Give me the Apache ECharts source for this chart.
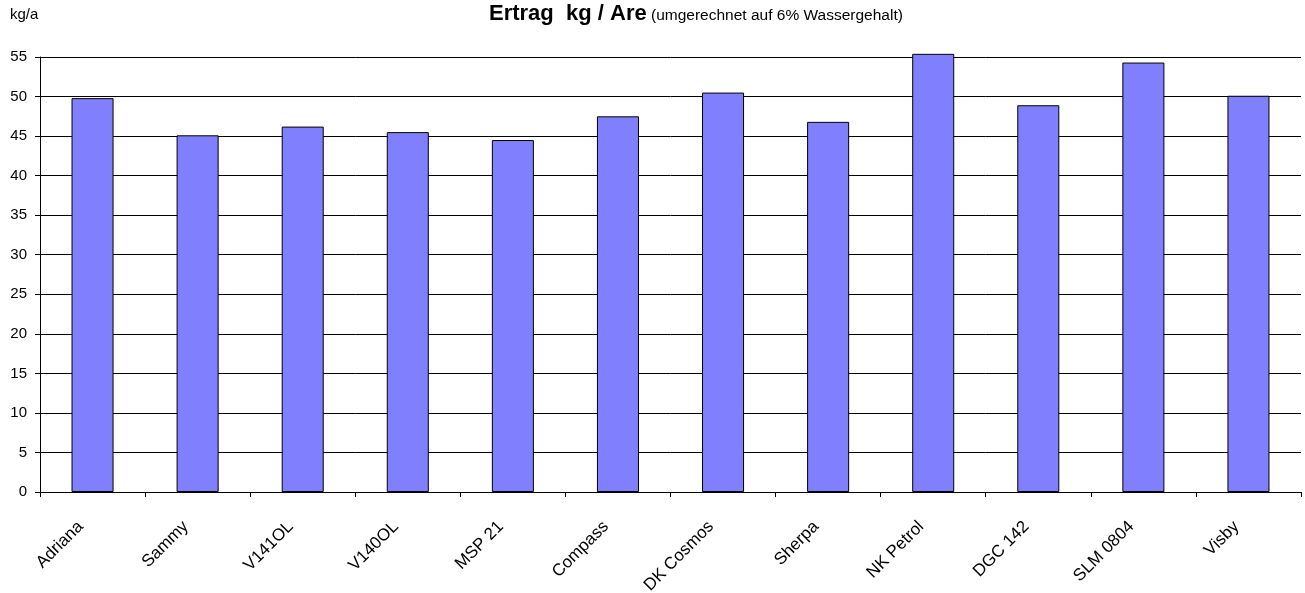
<!DOCTYPE html>
<html><head><meta charset="utf-8">
<script src="https://cdn.jsdelivr.net/npm/echarts@6/dist/echarts.min.js"></script>
<style>html,body{margin:0;padding:0;background:#fff}#c{width:1305px;height:593px}</style>
</head><body><div id="c"></div>
<script>
const categories = ['Adriana','Sammy','V141OL','V140OL','MSP 21','Compass','DK Cosmos','Sherpa','NK Petrol','DGC 142','SLM 0804','Visby'];
const yields = [49.8, 45.1, 46.2, 45.5, 44.5, 47.5, 50.5, 46.8, 55.4, 48.9, 54.3, 50.1];
const yTicks = [0,5,10,15,20,25,30,35,40,45,50,55];
const unitLabel = 'kg/a';
const titleMain = 'Ertrag  kg / Are';
const titleSub = ' (umgerechnet auf 6% Wassergehalt)';

const chart = echarts.init(document.getElementById('c'), null, {renderer:'canvas'});
const font = '"Liberation Sans", Arial, sans-serif';
chart.setOption({
  animation: false,
  backgroundColor: '#fff',
  title: {
    text: '{b|' + titleMain + '}{s|' + titleSub + '}',
    left: 489, top: 1, padding: 0, textAlign: 'left',
    textStyle: {
      rich: {
        b: {fontFamily: font, fontSize: 22, fontWeight: 'bold', color: '#000', lineHeight: 24, verticalAlign: 'bottom'},
        s: {fontFamily: font, fontSize: 15.5, fontWeight: 'normal', color: '#000', lineHeight: 24, verticalAlign: 'bottom', padding: [0,0,1,0]}
      }
    }
  },
  graphic: [{type:'text', left: 10, top: 7, style:{text: unitLabel, font: '15px ' + font, fill:'#000'}}],
  grid: {left: 40, right: 4, top: 57, bottom: 101, containLabel: false, outerBoundsMode: 'none'},
  xAxis: {
    type: 'category', data: categories,
    axisLine: {lineStyle: {color: '#000', width: 1}},
    axisTick: {show: true, alignWithLabel: false, length: 5, lineStyle: {color: '#000'}},
    axisLabel: {rotate: 45, interval: 0, margin: 20, padding: [0, 17, 0, 0], color: '#000', fontFamily: font, fontSize: 17},
    splitLine: {show: false}
  },
  yAxis: {
    type: 'value', min: 0, max: 55, interval: 5,
    axisLine: {show: true, lineStyle: {color: '#000', width: 1}},
    axisTick: {show: true, length: 5, inside: false, lineStyle: {color: '#000'}},
    axisLabel: {color: '#000', fontFamily: font, fontSize: 15, margin: 13,
      formatter: v => yTicks.includes(v) ? String(v) : ''},
    splitLine: {show: true, lineStyle: {color: '#000', width: 1}}
  },
  series: [{
    type: 'bar', data: yields, clip: false,
    barCategoryGap: '60%',
    itemStyle: {color: '#8080ff', borderColor: '#000', borderWidth: 1}
  }]
});
</script></body></html>
